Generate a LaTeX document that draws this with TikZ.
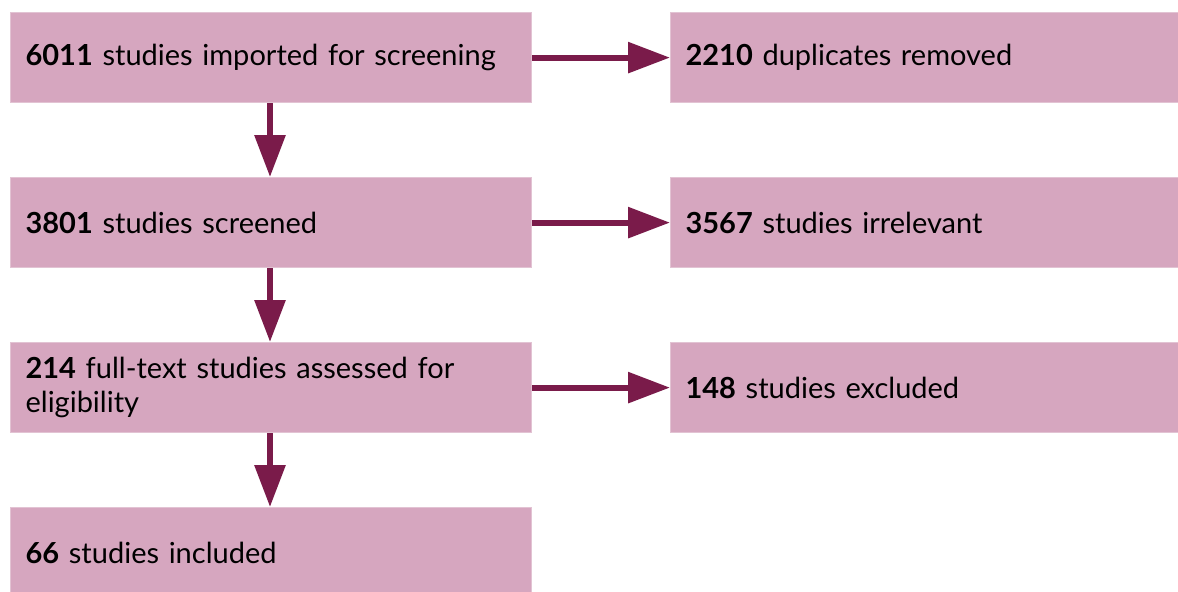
\documentclass[tikz,border=0pt]{standalone}
\usepackage{fontspec}
\setmainfont{Lato}
\usetikzlibrary{positioning,arrows.meta}
\definecolor{boxfill}{HTML}{D6A6BF}
\definecolor{boxline}{HTML}{E2C3D3}
\definecolor{arrowcol}{HTML}{7A1B4A}
\begin{document}
\begin{tikzpicture}[
    x=1pt,y=1pt,
    stage/.style={draw=boxline,line width=0.6pt,fill=boxfill,anchor=north west,
      minimum height=45pt,inner xsep=7.5pt,inner ysep=0pt,align=left,
      font=\fontsize{14.5}{17}\selectfont},
    leftbox/.style={stage,minimum width=260.5pt,text width=245.5pt},
    rightbox/.style={stage,minimum width=254pt,text width=239pt},
    flow/.style={draw=arrowcol,line width=3pt,-{Triangle[length=21pt,width=15pt]}}
  ]
  \useasboundingbox (0,0) rectangle (589,-295.5);
  \clip (0,0) rectangle (589,-295.5);
  \node[leftbox] (imported) at (5,-6) {\textbf{6011} studies imported for screening};
  \node[leftbox] (screened) at (5,-88.5) {\textbf{3801} studies screened};
  \node[leftbox] (fulltext) at (5,-171) {\textbf{214} full-text studies assessed for\\eligibility};
  \node[leftbox] (included) at (5,-253.5) {\textbf{66} studies included};
  \node[rightbox] (duplicates) at (335,-6) {\textbf{2210} duplicates removed};
  \node[rightbox] (irrelevant) at (335,-88.5) {\textbf{3567} studies irrelevant};
  \node[rightbox] (excluded) at (335,-171) {\textbf{148} studies excluded};
  \begin{scope}[flow]
    \draw (imported) -- (duplicates);
    \draw (screened) -- (irrelevant);
    \draw (fulltext) -- (excluded);
    \draw (imported.south -| 135,0) -- (screened.north -| 135,0);
    \draw (screened.south -| 135,0) -- (fulltext.north -| 135,0);
    \draw (fulltext.south -| 135,0) -- (included.north -| 135,0);
  \end{scope}
\end{tikzpicture}
\end{document}
